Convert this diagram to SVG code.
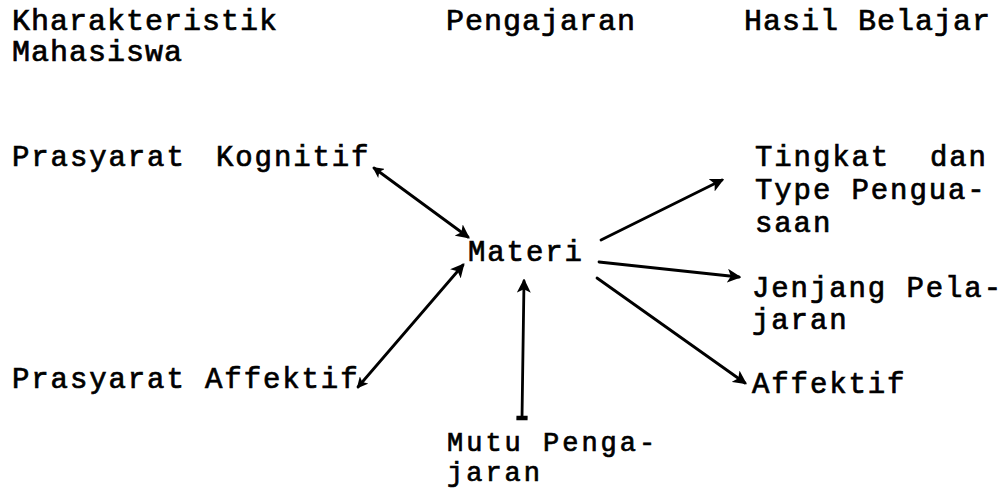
<svg xmlns="http://www.w3.org/2000/svg" width="1001" height="489" viewBox="0 0 1001 489">
<style>
text{font-family:"Liberation Mono","DejaVu Sans Mono",monospace;font-size:29px;letter-spacing:1.9px;fill:#000;stroke:#000;stroke-width:0.7}
.h{font-size:30px;letter-spacing:1px}
.m{font-size:27px;letter-spacing:3px}
.c{fill:none;stroke:#000;stroke-width:2.8;stroke-linecap:round}
</style>
<defs>
<marker id="ah" viewBox="0 0 12 12" refX="10" refY="6" markerWidth="5" markerHeight="5" orient="auto" markerUnits="strokeWidth">
<path d="M0,0 L12,6 L0,12 L3,6 Z" fill="#000"/>
</marker>
<marker id="as" viewBox="0 0 12 12" refX="2" refY="6" markerWidth="4" markerHeight="4" orient="auto" markerUnits="strokeWidth">
<path d="M12,0 L0,6 L12,12 L9,6 Z" fill="#000"/>
</marker>
<marker id="bar" viewBox="0 0 10 10" refX="5" refY="5" markerWidth="4" markerHeight="4" orient="auto" markerUnits="strokeWidth">
<rect x="3" y="0" width="4" height="10" fill="#000"/>
</marker>
</defs>
<g id="header-karakteristik"><text class="h" x="12" y="30">Kharakteristik</text><text class="h" x="12" y="61">Mahasiswa</text></g>
<g id="header-pengajaran"><text class="h" x="446" y="30">Pengajaran</text></g>
<g id="header-hasil"><text class="h" x="744" y="30">Hasil Belajar</text></g>
<g id="node-kognitif"><text x="12" y="166">Prasyarat</text><text x="216" y="166">Kognitif</text></g>
<g id="node-affektif-in"><text x="12" y="388">Prasyarat Affektif</text></g>
<g id="node-materi"><text x="468" y="261">Materi</text></g>
<g id="node-mutu"><text class="m" x="447" y="451">Mutu Penga-</text><text class="m" x="447" y="481">jaran</text></g>
<g id="node-tingkat"><text x="755" y="166">Tingkat</text><text x="930" y="166">dan</text><text x="755" y="199">Type Pengua-</text><text x="755" y="232">saan</text></g>
<g id="node-jenjang"><text x="752" y="297">Jenjang Pela-</text><text x="752" y="329">jaran</text></g>
<g id="node-affektif-out"><text x="752" y="393">Affektif</text></g>
<g id="connectors">
<line class="c" x1="374" y1="168" x2="468" y2="237" marker-start="url(#as)" marker-end="url(#ah)"/>
<line class="c" x1="358" y1="387" x2="463" y2="265" marker-start="url(#as)" marker-end="url(#ah)"/>
<line class="c" x1="522" y1="418" x2="524" y2="281" marker-start="url(#bar)" marker-end="url(#ah)"/>
<line class="c" x1="601" y1="240" x2="722" y2="180" marker-end="url(#ah)"/>
<line class="c" x1="599" y1="262" x2="739" y2="277" marker-end="url(#ah)"/>
<line class="c" x1="597" y1="278" x2="745" y2="383" marker-end="url(#ah)"/>
</g>
</svg>
